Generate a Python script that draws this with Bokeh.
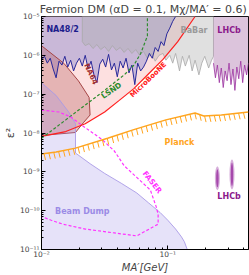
import numpy as np
from bokeh.plotting import figure
from bokeh.models import FixedTicker, Label, CustomJSTickFormatter
from bokeh.embed import file_html
from bokeh.resources import INLINE

FONT = "DejaVu Sans"

# ---------------- axes / ticks ----------------
y_ticks = [1e-11, 1e-10, 1e-9, 1e-8, 1e-7, 1e-6, 1e-5]
y_tick_labels = ["10⁻¹¹", "10⁻¹⁰", "10⁻⁹", "10⁻⁸", "10⁻⁷", "10⁻⁶", "10⁻⁵"]
x_ticks = [0.01, 0.1]
x_tick_labels = ["10⁻²", "10⁻¹"]
x_lim = (0.01, 0.435)
y_lim = (1e-11, 1e-5)

# ---------------- data (mass in GeV, epsilon^2) ----------------
na48_mass = [0.0100, 0.01055, 0.01112, 0.01173, 0.01237, 0.01305, 0.01376, 0.01451, 0.01530, 0.01613,
             0.01701, 0.01794, 0.01892, 0.01995, 0.02104, 0.02219, 0.02340, 0.02468, 0.02602, 0.02745,
             0.02894, 0.03052, 0.03219, 0.03395, 0.03580, 0.03775, 0.03981, 0.04198, 0.04427, 0.04669,
             0.04924, 0.05193, 0.05476, 0.05775, 0.06090, 0.06422, 0.06772, 0.07142, 0.07531, 0.07943,
             0.0838, 0.08834, 0.09316, 0.09824, 0.1036, 0.1093, 0.1152]
na48_eps2 = [7.49e-7, 9.44e-7, 6.29e-7, 8.41e-7, 4.45e-7, 2.64e-7, 7.07e-7, 5.61e-7, 9.44e-7, 4.99e-7,
             7.49e-7, 3.96e-7, 6.29e-7, 8.41e-7, 5.29e-7, 1.0e-6, 4.45e-7, 7.07e-7, 3.14e-7, 1.98e-7,
             5.94e-7, 7.93e-7, 4.99e-7, 1.06e-6, 4.2e-7, 6.29e-7, 2.8e-7, 7.07e-7, 4.71e-7, 8.41e-7,
             3.53e-7, 5.61e-7, 1.76e-7, 6.29e-7, 3.96e-7, 4.99e-7, 7.07e-7, 1.12e-6, 8.41e-7, 1.59e-6,
             1.26e-6, 2.25e-6, 1.78e-6, 3.57e-6, 5.02e-6, 7.5e-6, 1.0e-5]

babar_mass = [0.02104, 0.02104, 0.02219, 0.02381, 0.02556, 0.02745, 0.02946, 0.03162, 0.03395, 0.03644,
              0.03912, 0.04198, 0.04506, 0.04837, 0.05193, 0.05574, 0.05983, 0.06422, 0.06893, 0.07399,
              0.07943, 0.08526, 0.09153, 0.09652, 0.1036, 0.1093, 0.1152, 0.1237, 0.1305, 0.1376,
              0.1476, 0.1557, 0.1643, 0.1762, 0.1858, 0.1960, 0.2104, 0.2219, 0.2298, 0.2298]
babar_eps2 = [1e-5, 2.25e-6, 1.78e-6, 2.0e-6, 1.5e-6, 1.89e-6, 1.41e-6, 1.68e-6, 1.26e-6, 1.78e-6,
              1.34e-6, 1.59e-6, 1.19e-6, 1.5e-6, 1.12e-6, 1.41e-6, 1.0e-6, 1.26e-6, 8.41e-7, 1.12e-6,
              7.07e-7, 1.0e-6, 1.12e-6, 7.49e-7, 1.0e-6, 6.29e-7, 1.12e-6, 3.96e-7, 9.44e-7, 5.29e-7,
              1.0e-6, 3.96e-7, 7.49e-7, 3.14e-7, 6.29e-7, 9.44e-7, 4.71e-7, 7.49e-7, 9.44e-7, 1e-5]

lhcb_mass = [0.2298, 0.2298, 0.2381, 0.2467, 0.2556, 0.2649, 0.2745, 0.2843, 0.2946, 0.3052, 0.3162,
             0.3277, 0.3395, 0.3517, 0.3644, 0.3775, 0.3912, 0.4053, 0.4199, 0.4350, 0.4350]
lhcb_eps2 = [1e-5, 6.29e-7, 2.64e-7, 5.61e-7, 1.98e-7, 4.71e-7, 1.48e-7, 3.96e-7, 2.22e-7, 6.29e-7,
             1.76e-7, 4.45e-7, 1.25e-7, 4.99e-7, 2.49e-7, 7.07e-7, 1.98e-7, 5.61e-7, 3.14e-7, 6.29e-7, 1e-5]

microboone_mass = [0.01, 0.01557, 0.02219, 0.03162, 0.04125, 0.0538, 0.07017, 0.09153, 0.1194, 0.1643]
microboone_eps2 = [8.2e-9, 1.09e-8, 1.73e-8, 3.47e-8, 6.93e-8, 1.39e-7, 3.30e-7, 7.85e-7, 2.22e-6, 1e-5]

na64_mass = [0.01, 0.01503, 0.01960, 0.02382, 0.02424, 0.02142, 0.01858, 0.01]
na64_eps2 = [1.77e-6, 6.23e-7, 2.20e-7, 8.24e-8, 2.91e-8, 1.83e-8, 1.03e-8, 8.65e-9]

beamdump_mass = [0.01, 0.01305, 0.01642, 0.01858, 0.01858, 0.02424, 0.03162, 0.04274, 0.05675, 0.07017,
                 0.0868, 0.1, 0.1152, 0.1281, 0.1351, 0.1425, 0.01]
beamdump_eps2 = [1.96e-7, 9.25e-8, 3.47e-8, 1.73e-8, 3.05e-9, 1.62e-9, 9.1e-10, 5.09e-10, 2.86e-10, 1.6e-10,
                 9.0e-11, 5.66e-11, 3.36e-11, 2.12e-11, 1.59e-11, 1e-11, 1e-11]

faser_mass = [0.01, 0.01376, 0.01701, 0.02219, 0.02998, 0.03775, 0.04506, 0.05675, 0.07269, 0.08084,
              0.0838, 0.0838, 0.05675, 0.03775, 0.02219, 0.01476, 0.01194, 0.01]
faser_eps2 = [3.89e-8, 3.47e-8, 2.59e-8, 1.37e-8, 6.9e-9, 3.43e-9, 1.44e-9, 7.2e-10, 3.4e-10, 1.27e-10,
              8.0e-11, 4.49e-11, 2.24e-11, 2.67e-11, 3.36e-11, 4.49e-11, 5.66e-11, 7.1e-11]

lsnd_mass = [0.01, 0.01557, 0.02998, 0.04506, 0.0538, 0.0609, 0.06893, 0.06893]
lsnd_eps2 = [7.3e-9, 2.18e-8, 1.10e-7, 3.12e-7, 5.56e-7, 1.11e-6, 3.15e-6, 1e-5]

planck_mass = [0.01, 0.01305, 0.01858, 0.03336, 0.0538, 0.09652, 0.1643, 0.1926, 0.2649, 0.435]
planck_eps2 = [2.88e-9, 3.24e-9, 4.08e-9, 7.3e-9, 1.22e-8, 2.18e-8, 3.27e-8, 2.75e-8, 2.91e-8, 3.47e-8]

lhcb_blob_mass = [0.2467, 0.3219]
lhcb_blob_eps2 = [6.8e-10, 8.6e-10]

# ---------------- figure ----------------
p = figure(width=249, height=275, x_axis_type="log", y_axis_type="log",
           x_range=x_lim, y_range=y_lim, output_backend="svg", toolbar_location=None,
           min_border_left=30, min_border_right=1, min_border_top=0, min_border_bottom=20,
           title="Fermion DM  (αD = 0.1, Mχ/MA′ = 0.6)")
p.title.align = "center"
p.title.text_font = FONT
p.title.text_font_size = "11px"
p.title.text_font_style = "normal"
p.title.standoff = 1
p.title.offset = 0
p.grid.visible = False
p.outline_line_color = "black"
p.outline_line_width = 1
p.background_fill_color = "white"
p.border_fill_color = "white"

fmt_code = """
const i = tvals.findIndex(t => Math.abs(Math.log10(t) - Math.log10(tick)) < 1e-6);
return i >= 0 ? tlabels[i] : "";
"""
minor_y = [m * 10.0 ** e for e in range(-11, -5) for m in range(2, 10)]
minor_x = [m * 10.0 ** e for e in (-2, -1) for m in range(2, 10) if m * 10.0 ** e < x_lim[1]]
p.yaxis.ticker = FixedTicker(ticks=y_ticks, minor_ticks=minor_y)
p.xaxis.ticker = FixedTicker(ticks=x_ticks, minor_ticks=minor_x)
p.yaxis.formatter = CustomJSTickFormatter(args=dict(tvals=y_ticks, tlabels=y_tick_labels), code=fmt_code)
p.xaxis.formatter = CustomJSTickFormatter(args=dict(tvals=x_ticks, tlabels=x_tick_labels), code=fmt_code)
for ax in (p.xaxis, p.yaxis):
    ax.major_tick_in = 4
    ax.major_tick_out = 0
    ax.minor_tick_in = 2
    ax.minor_tick_out = 0
    ax.major_label_text_font = FONT
    ax.major_label_text_font_size = "7.5px"
    ax.major_label_standoff = 2
    ax.axis_line_color = "black"
    ax.axis_label_text_font = FONT
    ax.axis_label_text_font_size = "11px"
    ax.axis_label_standoff = 0
p.xaxis.major_label_standoff = 0
p.xaxis.axis_label = "MA′[GeV]"
p.xaxis.axis_label_text_font_size = "10px"
p.xaxis.axis_label_text_font_style = "italic"
p.yaxis.axis_label = "ε²"
p.yaxis.axis_label_text_font_style = "normal"

# ---------------- regions ----------------
p.patch(microboone_mass + [0.01], microboone_eps2 + [1e-5], fill_color="#fde0e0", line_color=None)
p.patch(na48_mass + [0.01], na48_eps2 + [1e-5], fill_color="#c2b2d6", fill_alpha=0.88, line_color=None)
p.patch(babar_mass, babar_eps2, fill_color="#adadad", fill_alpha=0.38, line_color="#a8a8a8", line_width=0.8)
p.patch(lhcb_mass, lhcb_eps2, fill_color="#b98ab9", fill_alpha=0.5, line_color=None)
p.line(lhcb_mass[1:-1], lhcb_eps2[1:-1], line_color="#9a2fa0", line_width=0.8)
p.patch(na64_mass, na64_eps2, fill_color="#b05050", fill_alpha=0.3, line_color="#a54545", line_width=1)
p.patch(beamdump_mass, beamdump_eps2, fill_color="#9d8ce6", fill_alpha=0.25,
        line_color="#a99be6", line_width=0.9)
p.line(na48_mass, na48_eps2, line_color="#28289a", line_width=1)

p.line(microboone_mass, microboone_eps2, line_color="#ff1f1f", line_width=1.2)
p.line(lsnd_mass, lsnd_eps2, line_color="#2e8b2e", line_width=1.2, line_dash="3 2")
p.line(faser_mass, faser_eps2, line_color="#ff33ff", line_width=1.2, line_dash="3 2")

p.line(planck_mass, planck_eps2, line_color="#ffa51f", line_width=1.5)
lx = np.log10(planck_mass)
ly = np.log10(planck_eps2)
hx = np.arange(lx[0] + 0.02, lx[-1] - 0.01, 0.0385)
hy = np.interp(hx, lx, ly)
p.segment(10 ** hx, 10 ** hy, 10 ** (hx + 0.012), 10 ** (hy - 0.16),
          line_color="#ffa51f", line_width=1)

p.ellipse(lhcb_blob_mass, lhcb_blob_eps2, width=[5, 5], height=[24, 30],
          width_units="screen", height_units="screen", fill_color="#b060b8", fill_alpha=0.5, line_color=None)
p.ellipse(lhcb_blob_mass, lhcb_blob_eps2, width=[2.5, 2.5], height=[18, 24],
          width_units="screen", height_units="screen", fill_color="#9a30a0", fill_alpha=0.8, line_color=None)

# ---------------- labels ----------------
def lab(x, y, text, color, size="8px", angle=0, align="center"):
    p.add_layout(Label(x=x, y=y, text=text, text_color=color, text_font=FONT,
                       text_font_style="bold", text_font_size=size, angle=angle, angle_units="deg",
                       text_align=align, text_baseline="middle"))

lab(0.01093, 4.72e-6, "NA48/2", "#1c1c8c", align="left")
lab(0.1613, 4.46e-6, "BaBar", "#9a9a9a")
lab(0.3052, 4.46e-6, "LHCb", "#8b1a8b")
lab(0.02468, 3.3e-7, "NA64", "#a03030", size="7.5px", angle=-65)
lab(0.0358, 1.24e-7, "LSND", "#2a8a2a", size="7.5px", angle=35)
lab(0.0702, 2.33e-7, "MicroBooNE", "#ff2020", size="7px", angle=44)
lab(0.1237, 5.77e-9, "Planck", "#ffa51f")
lab(0.0753, 5.4e-10, "FASER", "#ff33ff", size="7.5px", angle=-52)
lab(0.02104, 9.5e-11, "Beam Dump", "#9b8be6")
lab(0.3052, 2.26e-10, "LHCb", "#8b1a8b")

open("out.html", "w").write(file_html(p, INLINE))
